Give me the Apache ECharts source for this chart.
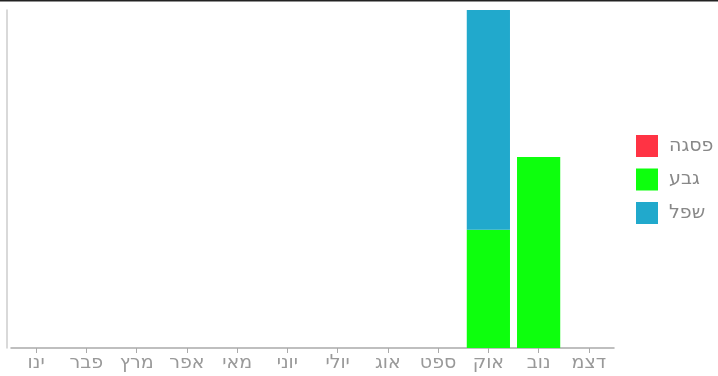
<!DOCTYPE html>
<html><head><meta charset="utf-8">
<script src="https://cdn.jsdelivr.net/npm/echarts@6/dist/echarts.min.js"></script>
<style>html,body{margin:0;padding:0;background:#fff}#c{width:718px;height:376px}</style>
</head><body><div id="c"></div>
<script>
const months = ['ינו','פבר','מרץ','אפר','מאי','יוני','יולי','אוג','ספט','אוק','נוב','דצמ'];
const seriesNames = ['פסגה','גבע','שפל'];
const peakValues = [0,0,0,0,0,0,0,0,0,0,0,0];
const midValues = [0,0,0,0,0,0,0,0,0,3.5,5.65,0];
const lowValues = [0,0,0,0,0,0,0,0,0,6.5,0,0];
const colors = ['#ff3344','#0dff0d','#21a9cc'];
// half-step helper axis so ticks sit at category centres
const tickSlots = [];
for (let i = 0; i <= months.length * 2; i++) tickSlots.push('');
const chart = echarts.init(document.getElementById('c'), null, {renderer:'canvas'});
const mk = (name, data, color) => ({
  name, type:'bar', stack:'t', data, barCategoryGap:'14%',
  itemStyle:{color}
});
const font = 'DejaVu Sans';
chart.setOption({
  animation:false,
  graphic:[{type:'rect', shape:{x:0,y:0,width:718,height:1.5}, style:{fill:'#222'}}],
  grid:{left:11, right:104, top:10, bottom:28},
  legend:{orient:'vertical', left:636, top:135, padding:0, itemWidth:22, itemHeight:22, itemGap:11.5,
    icon:'rect', data:seriesNames,
    textStyle:{color:'#888', fontSize:19, fontFamily:font, padding:[0,0,0,6]}},
  xAxis:[{type:'category', data:months,
    axisLine:{lineStyle:{color:'#aaa', width:1.5}},
    axisTick:{show:false},
    axisLabel:{color:'#999', fontSize:19, margin:6, interval:0, fontFamily:font}},
   {type:'category', data:tickSlots, boundaryGap:false, position:'bottom',
    axisLine:{show:false}, axisLabel:{show:false},
    axisTick:{show:true, length:5, interval:(i)=> i % 2 === 1, lineStyle:{color:'#aaa'}}}],
  yAxis:{type:'value', min:0, max:10, offset:4,
    axisLine:{show:true, lineStyle:{color:'#ccc', width:1.5}},
    axisTick:{show:false}, axisLabel:{show:false}, splitLine:{show:false}},
  series:[mk(seriesNames[0], peakValues, colors[0]), mk(seriesNames[1], midValues, colors[1]), mk(seriesNames[2], lowValues, colors[2])]
});
</script></body></html>
